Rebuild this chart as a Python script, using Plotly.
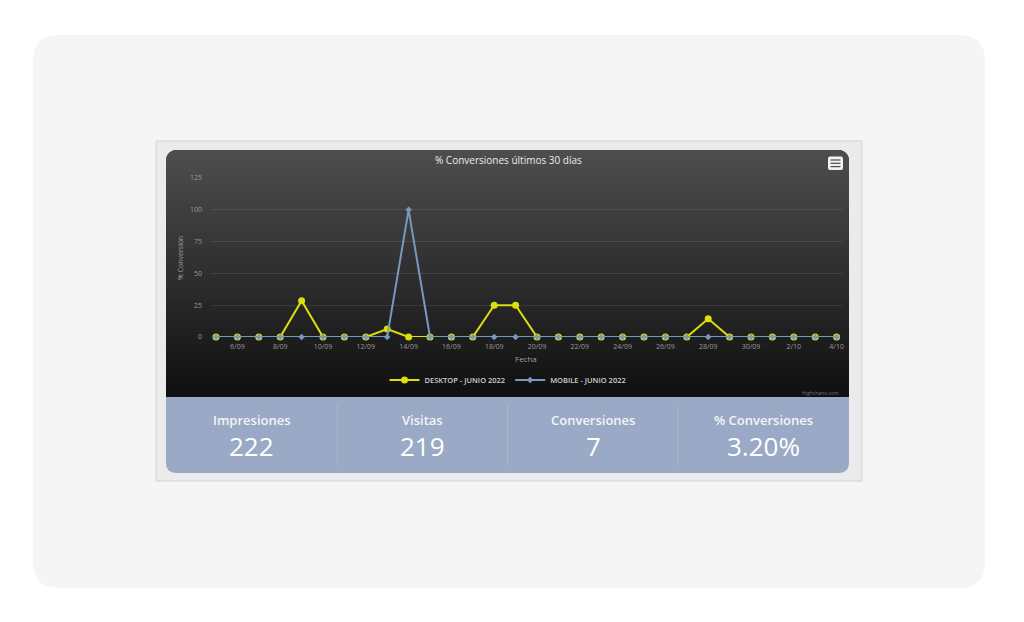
import math
import pandas as pd
import plotly.graph_objects as go

# ---------------- data ----------------
dates = pd.date_range("2022-09-05", "2022-10-04", freq="D")
desktop = [0, 0, 0, 0, 28.57, 0, 0, 0, 6.25, 0, 0, 0, 0, 25, 25, 0, 0, 0, 0, 0,
           0, 0, 0, 14.29, 0, 0, 0, 0, 0, 0]
mobile = [0, 0, 0, 0, 0, 0, 0, 0, 0, 100, 0, 0, 0, 0, 0, 0, 0, 0, 0, 0,
          0, 0, 0, 0, 0, 0, 0, 0, 0, 0]
series_names = ["DESKTOP - JUNIO 2022", "MOBILE - JUNIO 2022"]
y_ticks = [0, 25, 50, 75, 100, 125]
stat_labels = ["Impresiones", "Visitas", "Conversiones", "% Conversiones"]
stat_values = ["222", "219", "7", "3.20%"]

W, H = 1024, 622
FONT = "Open Sans"

def px(x):
    return x / W

def py(y):
    return 1 - y / H

shapes = []

def rect(x0, y0, x1, y1, fill, line=None, lw=0):
    shapes.append(dict(type="rect", xref="paper", yref="paper", layer="below",
                       x0=px(x0), x1=px(x1), y0=py(y1), y1=py(y0),
                       fillcolor=fill,
                       line=dict(color=line or fill, width=lw)))

def rounded(x0, y0, x1, y1, r, fill, corners=(1, 1, 1, 1), line=None, lw=0):
    # corners: tl, tr, br, bl
    tl, tr, br, bl = [r * c for c in corners]
    def P(x, y):
        return f"{px(x):.6f},{py(y):.6f}"
    d = f"M {P(x0 + tl, y0)} L {P(x1 - tr, y0)} "
    if tr:
        d += f"Q {P(x1, y0)} {P(x1, y0 + tr)} "
    d += f"L {P(x1, y1 - br)} "
    if br:
        d += f"Q {P(x1, y1)} {P(x1 - br, y1)} "
    d += f"L {P(x0 + bl, y1)} "
    if bl:
        d += f"Q {P(x0, y1)} {P(x0, y1 - bl)} "
    d += f"L {P(x0, y0 + tl)} "
    if tl:
        d += f"Q {P(x0, y0)} {P(x0 + tl, y0)} "
    d += "Z"
    shapes.append(dict(type="path", path=d, xref="paper", yref="paper", layer="below",
                       fillcolor=fill, line=dict(color=line or fill, width=lw)))

# outer light card
rounded(33, 35, 985, 588, 26, "#f5f5f5")
# screenshot frame
rect(156, 141, 862, 481, "#ebebeb", "#d2d2d2", 1)

# dark gradient panel (rounded top corners)
PX0, PX1, PY0, PY1, R = 166, 849, 150, 397, 10
c_top, c_bot = 78, 15
y = PY0
while y < PY1:
    h = 1 if y - PY0 < R else 2
    t = (y + h / 2 - PY0) / (PY1 - PY0)
    c = round(c_top + (c_bot - c_top) * t)
    dy = y + h / 2 - PY0
    inset = 0
    if dy < R:
        inset = R - math.sqrt(max(R * R - (R - dy) ** 2, 0))
    rect(PX0 + inset, y, PX1 - inset, min(y + h + 1, PY1), f"rgb({c},{c},{c})")
    y += h

# blue stats band
rounded(166, 397, 849, 473, 10, "#9aaac6", corners=(0, 0, 1, 1))
for sx in [337, 507.5, 678]:
    shapes.append(dict(type="line", xref="paper", yref="paper", layer="below",
                       x0=px(sx), x1=px(sx), y0=py(405), y1=py(466),
                       line=dict(color="rgba(255,255,255,0.14)", width=1)))

# menu icon
rounded(828, 156.5, 843, 170, 2, "#f2f2f2")
for ly in [160, 163.3, 166.6]:
    shapes.append(dict(type="line", xref="paper", yref="paper", layer="above",
                       x0=px(830.5), x1=px(840.5), y0=py(ly), y1=py(ly),
                       line=dict(color="#555555", width=1.3)))

# ---------------- traces ----------------
fig = go.Figure()
fig.add_trace(go.Scatter(
    x=dates, y=desktop, name=series_names[0], mode="lines+markers",
    line=dict(color="#DDDF0D", width=2),
    marker=dict(symbol="circle", size=7, color="#DDDF0D"),
    cliponaxis=False))
fig.add_trace(go.Scatter(
    x=dates, y=mobile, name=series_names[1], mode="lines+markers",
    line=dict(color="#7798BF", width=2),
    marker=dict(symbol="diamond", size=5, color="#7798BF"),
    cliponaxis=False))

# axis geometry
plot_x0, plot_x1 = 211, 843
plot_y0, plot_y1 = 178, 337
first_px, spacing = 216, 21.4
start = dates[0] - pd.Timedelta(days=(first_px - plot_x0) / spacing)
end = dates[0] + pd.Timedelta(days=(plot_x1 - first_px) / spacing)

def ann(text, x, y, size, color, weight=400, **kw):
    d = dict(text=text, x=px(x), y=py(y), xref="paper", yref="paper",
             xanchor="center", yanchor="middle", showarrow=False,
             font=dict(family=FONT, size=size, color=color, weight=weight))
    d.update(kw)
    return d

annotations = [
    ann("% Conversiones últimos 30 días", 508, 160, 10, "#ececec", 500),
    ann("% Conversión", 180, 258, 7, "#a0a0a0"),
    ann("Fecha", 526, 358, 8, "#a0a0a0"),
    ann("Highcharts.com", 841, 393, 5, "#777777", xanchor="right"),
]
annotations[1]["textangle"] = -90
centers = [251.5, 422, 593, 763.5]
for cx, lab, val in zip(centers, stat_labels, stat_values):
    annotations.append(ann(lab, cx, 420, 13, "#f4f4f4", 600))
    annotations.append(ann(val, cx, 446, 26, "#ffffff", 500))

fig.update_layout(
    width=W, height=H, margin=dict(l=0, r=0, t=0, b=0, autoexpand=False),
    paper_bgcolor="#ffffff", plot_bgcolor="rgba(0,0,0,0)",
    font=dict(family=FONT),
    shapes=shapes, annotations=annotations,
    xaxis=dict(
        type="date", domain=[px(plot_x0), px(plot_x1)],
        range=[start, end],
        tick0="2022-09-06", dtick=2 * 86400000, tickformat="%-d/%m",
        showgrid=False, zeroline=False, showline=False, ticks="",
        ticklabelstandoff=4,
        tickfont=dict(family=FONT, size=7, color="#9a9a9a"),
        fixedrange=True),
    yaxis=dict(
        domain=[py(plot_y1), py(plot_y0)], range=[0, 125],
        tickvals=y_ticks, showgrid=True, gridcolor="rgba(255,255,255,0.09)",
        gridwidth=1, zeroline=False, showline=False, ticks="",
        ticklabelstandoff=8,
        tickfont=dict(family=FONT, size=7, color="#9a9a9a"),
        fixedrange=True),
    legend=dict(orientation="h", x=px(508), y=py(380), xanchor="center",
                yanchor="middle", bgcolor="rgba(0,0,0,0)",
                font=dict(family=FONT, size=7.5, color="#d0d0d0", weight=600),
                itemwidth=30, tracegroupgap=0),
    showlegend=True,
)

fig.write_html("out.html")
